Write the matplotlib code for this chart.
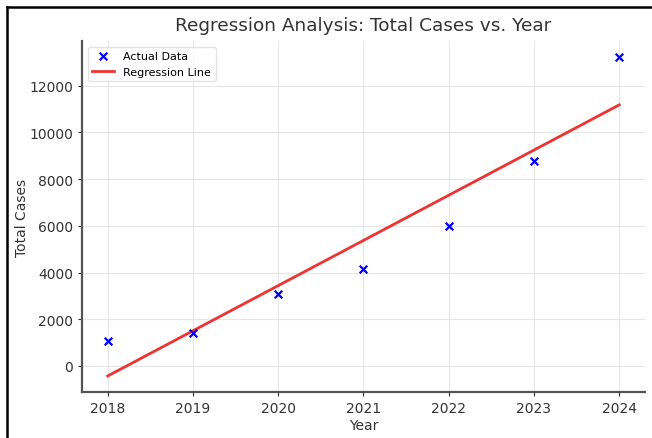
import numpy as np
import matplotlib
matplotlib.use("Agg")
import matplotlib.pyplot as plt
from matplotlib.lines import Line2D

years = [2018, 2019, 2020, 2021, 2022, 2023, 2024]
total_cases = [1050, 1400, 3060, 4130, 6000, 8760, 13230]

x = np.array(years)
y = np.array(total_cases)
slope, intercept = np.polyfit(x, y, 1)
fit = slope * x + intercept

fig = plt.figure(figsize=(6.52, 4.39), dpi=100)
ax = fig.add_axes([0.126, 0.105, 0.863, 0.799])

ax.scatter(x, y, marker='x', color='blue', s=30, linewidths=1.6,
           label='Actual Data', zorder=3)
ax.plot(x, fit, color='#ee3333', linewidth=2, label='Regression Line', zorder=2)

ax.set_title('Regression Analysis: Total Cases vs. Year', fontsize=13.3,
             color='#333333', pad=8)
ax.set_xlabel('Year', fontsize=10, color='#333333', labelpad=2)
ax.set_ylabel('Total Cases', fontsize=10, color='#333333', labelpad=0)
ax.set_xticks(years)
ax.tick_params(colors='#333333', labelsize=10, length=3)

ax.grid(True, color='#e6e6e6', linewidth=0.8)
ax.set_axisbelow(True)
for side in ['top', 'right']:
    ax.spines[side].set_visible(False)
for side in ['left', 'bottom']:
    ax.spines[side].set_color('#555555')
    ax.spines[side].set_linewidth(1.6)

leg = ax.legend(loc='upper left', fontsize=8, frameon=True, fancybox=True)
leg.get_frame().set_edgecolor('#dddddd')

# dark frame along the left and top edges
fig.add_artist(Line2D([0.011, 0.011], [0.0, 0.982], color='black', linewidth=1.8,
                      transform=fig.transFigure))
fig.add_artist(Line2D([0.011, 1.0], [0.982, 0.982], color='black', linewidth=1.8,
                      transform=fig.transFigure))

fig.savefig('out.png', dpi=100)
